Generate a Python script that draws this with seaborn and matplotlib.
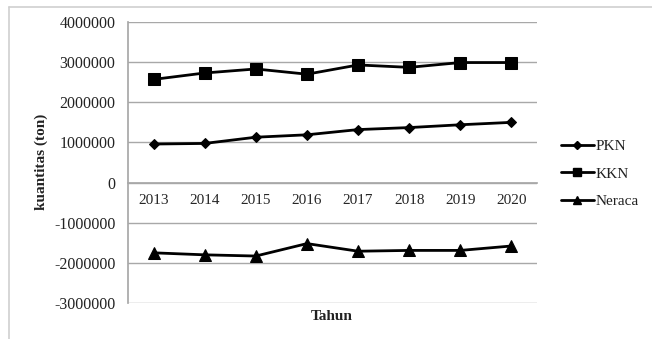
import matplotlib
matplotlib.use("Agg")
import matplotlib.pyplot as plt
import seaborn as sns
import pandas as pd
from matplotlib.lines import Line2D

# Quantities per year (ton)
years = ["2013", "2014", "2015", "2016", "2017", "2018", "2019", "2020"]
pkn = [960000, 975000, 1130000, 1190000, 1320000, 1370000, 1440000, 1500000]
kkn = [2570000, 2730000, 2830000, 2700000, 2930000, 2870000, 2990000, 2990000]
neraca = [-1750000, -1800000, -1830000, -1520000, -1710000, -1690000, -1690000, -1580000]
series_names = ["PKN", "KKN", "Neraca"]
yticks = [4000000, 3000000, 2000000, 1000000, 0, -1000000, -2000000, -3000000]

sns.set_theme(style="white")
plt.rcParams["font.family"] = ["Liberation Serif", "DejaVu Serif"]

rows = []
for name, vals in zip(series_names, [pkn, kkn, neraca]):
    for i, (yr, v) in enumerate(zip(years, vals)):
        rows.append({"idx": i, "Tahun": yr, "value": v, "series": name})
df = pd.DataFrame(rows)

fig = plt.figure(figsize=(6.52, 3.39), dpi=100)
fig.patch.set_facecolor("white")

# light frame around the chart area
fig.add_artist(Line2D([9 / 652, 1.0], [1 - 7 / 339, 1 - 7 / 339],
                      transform=fig.transFigure, color="#cfcfcf", lw=1.2))
fig.add_artist(Line2D([9 / 652, 9 / 652], [0.0, 1 - 7 / 339],
                      transform=fig.transFigure, color="#cfcfcf", lw=1.2))

ax = fig.add_axes([128 / 652, 1 - 303 / 339, (537 - 128) / 652, (303 - 22) / 339])

markers = {"PKN": "D", "KKN": "s", "Neraca": "^"}
sizes_map = {"PKN": 5, "KKN": 8, "Neraca": 8}

for name in series_names:
    sub = df[df["series"] == name]
    sns.lineplot(data=sub, x="idx", y="value", ax=ax, color="black",
                 marker=markers[name], markersize=sizes_map[name],
                 markeredgecolor="black", markerfacecolor="black",
                 linewidth=2.0, legend=False)

ax.set_xlim(-0.5, len(years) - 0.5)
ax.set_ylim(-3000000, 4000000)
ax.set_yticks(yticks)
ax.set_yticklabels([str(t) for t in yticks], fontsize=11.5, color="#222222")
ax.yaxis.grid(True, color="#a8a8a8", linewidth=1.0)
ax.xaxis.grid(False)
ax.set_axisbelow(True)

ax.set_xticks(range(len(years)))
ax.set_xticklabels(years, fontsize=11.5, color="#222222")
ax.spines["bottom"].set_position(("data", 0))
ax.spines["bottom"].set_color("#a8a8a8")
ax.spines["left"].set_color("#a8a8a8")
ax.spines["top"].set_visible(False)
ax.spines["right"].set_visible(False)
ax.tick_params(axis="x", length=0, pad=8)
ax.tick_params(axis="y", length=0, pad=9)

ax.set_xlabel("")
ax.set_ylabel("")
fig.text(41 / 652, 1 - 162 / 339, "kuantitas (ton)", rotation=90, ha="center",
         va="center", fontsize=11, fontweight="bold", color="#222222")
fig.text(332 / 652, 1 - 316 / 339, "Tahun", ha="center", va="center",
         fontsize=11, fontweight="bold", color="#222222")

handles = [
    Line2D([], [], color="black", lw=2.0, marker="D", markersize=4),
    Line2D([], [], color="black", lw=2.0, marker="s", markersize=6),
    Line2D([], [], color="black", lw=2.0, marker="^", markersize=6),
]
leg = fig.legend(handles, series_names, loc="upper left",
                 bbox_to_anchor=(553 / 652, 1 - 132 / 339), frameon=False,
                 fontsize=11, handlelength=2.2, handletextpad=0.1,
                 labelspacing=0.9, borderpad=0)
for t in leg.get_texts():
    t.set_color("#222222")

fig.savefig("out.png", dpi=100, facecolor="white")
